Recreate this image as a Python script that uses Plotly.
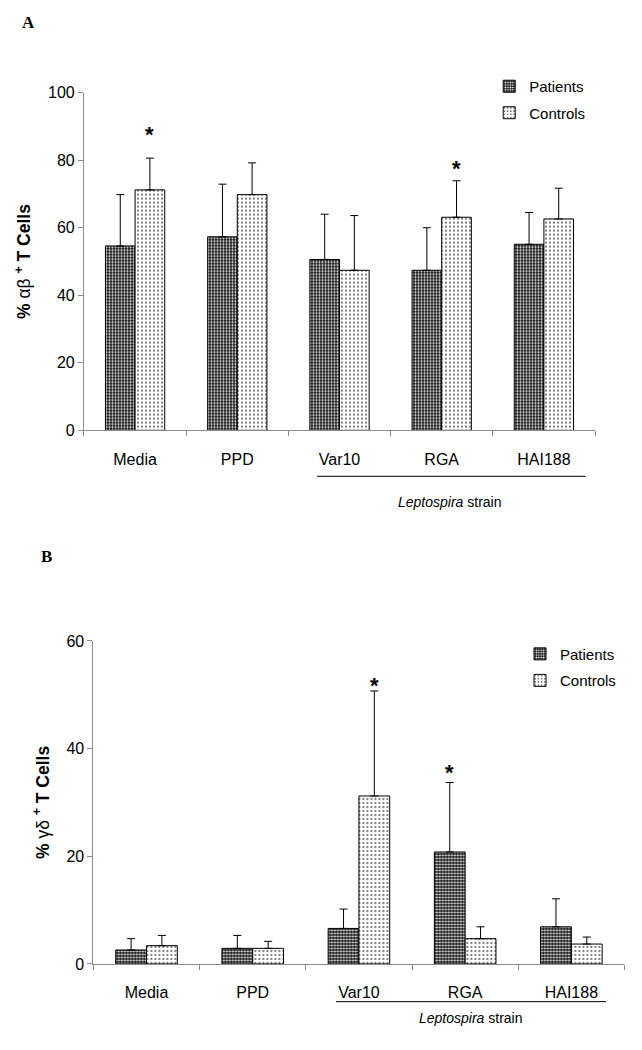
import plotly.graph_objects as go

categories = ["Media", "PPD", "Var10", "RGA", "HAI188"]

# Panel A: % alpha-beta+ T cells
a_patients = [54.6, 57.3, 50.6, 47.4, 55.1]
a_patients_err = [15.2, 15.6, 13.4, 12.6, 9.4]
a_controls = [71.2, 69.8, 47.4, 63.1, 62.6]
a_controls_err = [9.4, 9.4, 16.2, 10.8, 9.1]

# Panel B: % gamma-delta+ T cells
b_patients = [2.6, 2.9, 6.6, 20.8, 6.9]
b_patients_err = [2.1, 2.4, 3.6, 12.9, 5.2]
b_controls = [3.4, 2.9, 31.2, 4.7, 3.7]
b_controls_err = [1.9, 1.3, 19.5, 2.2, 1.3]

# significance markers: (category index, series offset sign, y in data units)
a_stars = [(0, 1, 87.0), (3, 1, 77.0)]
b_stars = [(2, 1, 51.4), (3, -1, 35.2)]

FONT = "Liberation Sans, Arial, sans-serif"

pat_patients = dict(shape=".", bgcolor="#111111", fgcolor="#ffffff", size=3, solidity=0.4, fillmode="replace")
pat_controls = dict(shape=".", bgcolor="#ffffff", fgcolor="#555555", size=4, solidity=0.2, fillmode="replace")

fig = go.Figure()

def add_bars(y, err, name, pattern, xa, ya, legend, group):
    fig.add_trace(go.Bar(
        x=categories, y=y, name=name,
        marker=dict(color="white", pattern=pattern, line=dict(color="black", width=1)),
        error_y=dict(type="data", symmetric=False, array=err, arrayminus=[0]*len(err),
                     color="black", thickness=1, width=4),
        xaxis=xa, yaxis=ya, legend=legend, legendgroup=group + legend,
    ))

add_bars(a_patients, a_patients_err, "Patients", pat_patients, "x", "y", "legend", "p")
add_bars(a_controls, a_controls_err, "Controls", pat_controls, "x", "y", "legend", "c")
add_bars(b_patients, b_patients_err, "Patients", pat_patients, "x2", "y2", "legend2", "p")
add_bars(b_controls, b_controls_err, "Controls", pat_controls, "x2", "y2", "legend2", "c")

axis_common = dict(showline=True, linecolor="#8c8c8c", linewidth=1, showgrid=False, zeroline=False,
                   ticks="outside", tickcolor="#8c8c8c", ticklen=5,
                   tickfont=dict(family=FONT, size=16, color="black"))

title_font = dict(family=FONT, size=17.5, color="black")

fig.update_layout(
    width=642, height=1050, margin=dict(l=0, r=0, t=0, b=0),
    paper_bgcolor="white", plot_bgcolor="white",
    barmode="group", bargap=0.42, bargroupgap=0,
    showlegend=True,
    xaxis=dict(domain=[0.1308, 0.9268], anchor="y", tickson="boundaries", ticklabelstandoff=14, **axis_common),
    yaxis=dict(domain=[0.5911, 0.9181], anchor="x", range=[0, 100], tickvals=[0, 20, 40, 60, 80, 100],
               title=dict(text="<b>%</b> αβ <b><sup>+</sup> T Cells</b>", font=title_font, standoff=12),
               **axis_common),
    xaxis2=dict(domain=[0.1455, 0.9727], anchor="y2", tickson="boundaries", ticklabelstandoff=14, **axis_common),
    yaxis2=dict(domain=[0.07457, 0.3873], anchor="x2", range=[0, 60], tickvals=[0, 20, 40, 60],
                title=dict(text="<b>%</b> γδ <b><sup>+</sup> T Cells</b>", font=title_font, standoff=12),
                **axis_common),
    legend=dict(x=0.762, y=0.94, xanchor="left", yanchor="top", traceorder="grouped", tracegroupgap=4,
                font=dict(family=FONT, size=15, color="black"), bgcolor="rgba(0,0,0,0)", itemwidth=30),
    legend2=dict(x=0.81, y=0.3905, xanchor="left", yanchor="top", traceorder="grouped", tracegroupgap=4,
                 font=dict(family=FONT, size=15, color="black"), bgcolor="rgba(0,0,0,0)", itemwidth=30),
)

def note(text, x, y, size, family=FONT):
    return dict(text=text, x=x, y=y, xref="paper", yref="paper", showarrow=False,
                xanchor="center", yanchor="middle", font=dict(family=family, size=size, color="black"))

annotations = [
    note("<b>A</b>", 28.7/642, 1-15/1050, 17, "Liberation Serif, Times New Roman, serif"),
    note("<b>B</b>", 47/642, 1-558/1050, 17, "Liberation Serif, Times New Roman, serif"),
    note("<i>Leptospira</i> strain", 450/642, 1-502/1050, 14),
    note("<i>Leptospira</i> strain", 471/642, 1-1027/1050, 14),
]
for i, s, yv in a_stars:
    annotations.append(dict(text="<b>*</b>", x=i + s * 0.145, y=yv, xref="x", yref="y", showarrow=False,
                            xanchor="center", yanchor="middle", yshift=2, font=dict(family=FONT, size=22, color="black")))
for i, s, yv in b_stars:
    annotations.append(dict(text="<b>*</b>", x=i + s * 0.145, y=yv, xref="x2", yref="y2", showarrow=False,
                            xanchor="center", yanchor="middle", yshift=2, font=dict(family=FONT, size=22, color="black")))
fig.update_layout(annotations=annotations)

fig.add_shape(type="line", xref="paper", yref="paper", x0=317/642, x1=585.6/642, y0=1-476/1050, y1=1-476/1050,
              line=dict(color="black", width=1))
fig.add_shape(type="line", xref="paper", yref="paper", x0=336/642, x1=606/642, y0=1-1010/1050, y1=1-1010/1050,
              line=dict(color="black", width=1))

fig.write_html("out.html", config={"displayModeBar": False},
               post_script="document.body.style.margin='0';document.body.style.overflow='hidden';")
